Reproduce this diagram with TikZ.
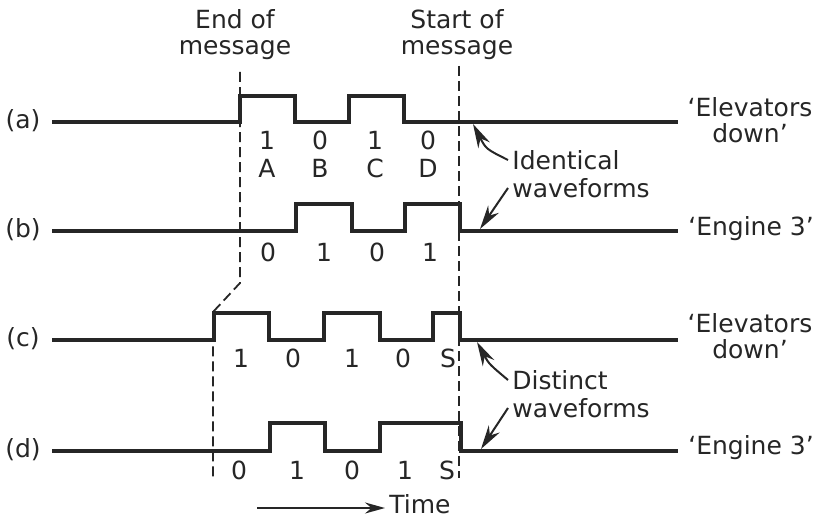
\documentclass[tikz,border=0pt]{standalone}
\usepackage{fontspec}
\setmainfont{DejaVu Sans}
\usetikzlibrary{arrows.meta,positioning,calc}
\colorlet{ink}{black!85}
\tikzstyle{wave} = [ink, line width=2pt, line join=miter]
\tikzstyle{marker} = [ink, line width=0.9pt, dash pattern=on 5pt off 2.5pt]
\tikzstyle{arrow} = [ink, line width=1pt,-{Stealth[length=12pt,width=6.5pt]}]
\tikzstyle{txt} = [ink, inner sep=2pt, align=center, font=\fontsize{12.5}{13}\selectfont]

\begin{document}
\begin{tikzpicture}[x=0.5pt,y=-0.5pt]
\useasboundingbox[fill=white] (0,0) rectangle (822,519);

% headings
\node (endmsg) [txt] at (235,35) {End of\\message};
\node (startmsg) [txt] at (457,35) {Start of\\message};

% row names
\node (rowa) [txt] at (23,121) {(a)};
\node (rowb) [txt] at (23,230) {(b)};
\node (rowc) [txt] at (23,339) {(c)};
\node (rowd) [txt] at (23,450) {(d)};

% waveforms
\draw[wave] (52,122) -- (240,122) -- (240,96) -- (295,96) -- (295,122) -- (349,122) -- (349,96) -- (404,96) -- (404,122) -- (678,122);
\draw[wave] (52,231) -- (296,231) -- (296,204) -- (352,204) -- (352,231) -- (405,231) -- (405,204) -- (460,204) -- (460,231) -- (678,231);
\draw[wave] (52,340) -- (214,340) -- (214,313) -- (269,313) -- (269,340) -- (324,340) -- (324,313) -- (380,313) -- (380,340) -- (433,340) -- (433,313) -- (460,313) -- (460,340) -- (678,340);
\draw[wave] (52,451) -- (270,451) -- (270,423) -- (325,423) -- (325,451) -- (380,451) -- (380,423) -- (461,423) -- (461,451) -- (678,451);

% bits
\foreach \d/\x [count=\i] in {1/267,0/320,1/375,0/428}
  \node (abit\i) [txt] at (\x,140) {\d};
\foreach \l/\x [count=\i] in {A/267,B/320,C/375,D/428}
  \node (alet\i) [txt] at (\x,168) {\l};
\foreach \d/\x [count=\i] in {0/268,1/324,0/377,1/430}
  \node (bbit\i) [txt] at (\x,252) {\d};
\foreach \d/\x [count=\i] in {1/241,0/293,1/352,0/403,S/448}
  \node (cbit\i) [txt] at (\x,358) {\d};
\foreach \d/\x [count=\i] in {0/239,1/297,0/352,1/405,S/447}
  \node (dbit\i) [txt] at (\x,470) {\d};

% message limits
\coordinate (end1) at (240,72);
\coordinate (end2) at (240,283);
\coordinate (end3) at (213,312);
\coordinate (end4) at (213,478);
\coordinate (start1) at (459,66);
\coordinate (start2) at (459,478);
\draw[marker] (end1) -- (end2) -- (end3) -- (end4);
\draw[marker] (start1) -- (start2);

% meanings
\node (meana) [txt] at (750,120) {‘Elevators\\down’};
\node (meanb) [txt] at (751,229) {‘Engine 3’};
\node (meanc) [txt] at (750,336) {‘Elevators\\down’};
\node (meand) [txt] at (751,448) {‘Engine 3’};

% remarks
\node (ident) [txt, anchor=west] at (508,160) {Identical};
\node (identw) [txt, anchor=west] at (508,188) {waveforms};
\node (dist) [txt, anchor=west] at (508,380) {Distinct};
\node (distw) [txt, anchor=west] at (508,408) {waveforms};
\coordinate (tipa) at (473,124);
\coordinate (tipb) at (480,229);
\coordinate (tipc) at (477,342);
\coordinate (tipd) at (481,449);
\draw[arrow] (ident.west) .. controls (486,149) .. (tipa);
\draw[arrow] (identw.west) -- (tipb);
\draw[arrow] (dist.west) .. controls (489,364) .. (tipc);
\draw[arrow] (distw.west) -- (tipd);

% time axis
\node (time) [txt] at (420,504) {Time};
\coordinate (tstart) at (257,508);
\draw[arrow, -{Stealth[length=10pt,width=5.5pt]}] (tstart) -- (tstart -| time.west);
\end{tikzpicture}
\end{document}
